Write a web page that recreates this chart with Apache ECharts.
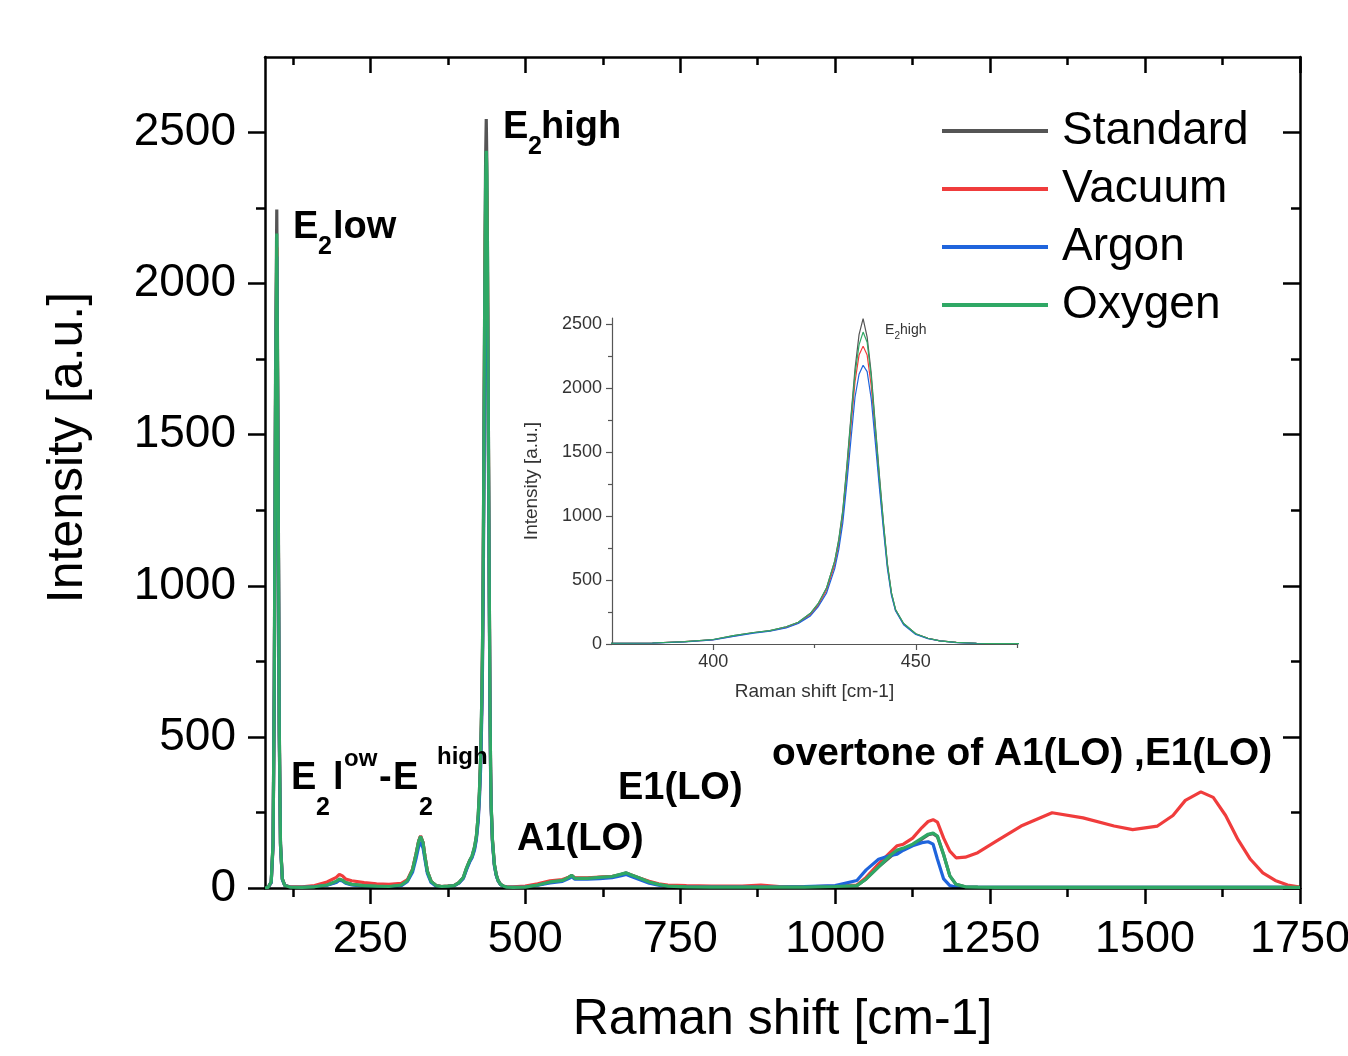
<!DOCTYPE html>
<html><head><meta charset="utf-8">
<script src="https://cdn.jsdelivr.net/npm/echarts@6/dist/echarts.min.js"></script>
<style>html,body{margin:0;padding:0;background:#fff;}#chart{width:1348px;height:1056px;}</style>
</head><body><div id="chart"></div>
<script>
// ---------------- data ----------------
const ramanShift = [80,85,90,93,95,97,99,101,103,105,108,112,120,140,160,180,195,200,205,210,220,240,260,280,300,310,318,324,328,331,333,335,338,342,348,356,365,375,385,393,400,405,410,414,418,421,424,426,428,430,431,432,433,434,435,436,437,438,439,440,441,442,443,444,445,447,450,453,456,460,465,470,480,500,520,540,560,570,575,580,600,620,640,655,663,670,685,700,715,730,760,800,850,880,910,950,1000,1035,1050,1070,1090,1100,1110,1125,1140,1150,1158,1165,1175,1185,1195,1210,1230,1260,1300,1350,1400,1450,1480,1520,1545,1565,1590,1610,1630,1650,1670,1690,1710,1730,1750];
const standard = [0,2,20,150,700,1700,2245,1500,550,150,30,8,3,2,4,10,20,28,25,18,12,8,6,5,10,25,60,115,155,172,170,150,105,55,22,8,5,6,8,18,35,65,90,105,135,170,240,320,440,650,820,1050,1400,1780,2150,2420,2545,2400,2120,1720,1330,960,630,400,270,160,80,45,25,12,6,3,2,3,10,20,25,35,42,32,32,35,38,45,50,44,32,20,12,6,4,3,3,3,3,3,5,8,30,70,105,122,128,142,162,176,180,170,110,40,12,4,3,2,2,2,2,2,2,2,2,2,2,2,2,2,2,2,2,2,2,2];
const vacuum = [0,2,18,140,650,1600,2120,1420,510,140,30,9,4,4,8,20,35,45,40,30,24,18,14,12,15,28,62,115,155,172,170,150,105,55,22,8,5,6,8,18,33,62,88,102,130,165,230,305,420,620,780,1000,1330,1700,2050,2260,2330,2260,2020,1650,1280,930,610,390,265,155,78,44,25,12,6,4,4,6,14,24,28,36,40,34,34,36,38,44,48,43,32,22,14,10,8,6,6,10,5,4,6,10,35,80,120,140,145,165,200,220,226,218,165,122,100,102,117,155,205,249,232,205,193,205,240,290,318,300,240,160,95,50,25,10,3];
const argon = [0,2,18,140,650,1580,2090,1400,500,140,28,8,3,2,4,9,18,26,23,16,10,6,5,4,8,22,52,100,138,152,150,132,95,48,18,6,4,5,7,16,32,60,85,100,125,160,220,295,400,590,740,950,1260,1600,1930,2110,2180,2130,1920,1580,1230,900,590,380,260,150,75,42,24,11,5,3,2,3,9,17,22,31,37,29,29,31,34,41,45,39,27,16,9,5,3,3,3,3,3,5,8,25,60,95,108,112,125,140,150,153,145,95,30,8,3,2,2,2,2,2,2,2,2,2,2,2,2,2,2,2,2,2,2,2];
const oxygen = [0,2,20,150,680,1650,2166,1450,530,145,30,8,3,2,4,10,22,30,26,18,12,8,6,5,10,25,60,115,155,170,168,150,105,55,22,8,5,6,8,18,35,65,90,105,135,170,240,320,440,650,810,1040,1380,1760,2110,2340,2440,2360,2090,1700,1310,950,620,400,270,160,80,45,25,12,6,3,2,3,10,20,25,35,42,32,32,35,38,46,50,44,32,20,12,6,4,3,3,3,3,3,5,8,30,70,110,126,132,145,165,178,182,172,110,40,12,4,3,2,2,2,2,2,2,2,2,2,2,2,2,2,2,2,2,2,2,2];

const seriesNames = ['Standard', 'Vacuum', 'Argon', 'Oxygen'];
const seriesValues = [standard, vacuum, argon, oxygen];
const seriesColors = ['#555555', '#f03c3c', '#1f64dc', '#2fa865'];

// tick values / labels
const mainXTicks = [250, 500, 750, 1000, 1250, 1500, 1750];
const mainXMinorTicks = [125, 375, 625, 875, 1125, 1375, 1625];
const mainYTicks = [0, 500, 1000, 1500, 2000, 2500];
const mainYMinorTicks = [250, 750, 1250, 1750, 2250];
const insetXTicks = [400, 450];
const insetXMinorTicks = [425, 475];
const insetYTicks = [0, 500, 1000, 1500, 2000, 2500];
const insetYMinorTicks = [250, 750, 1250, 1750, 2250];

// ---------------- chart ----------------
const FONT = '"Liberation Sans", Arial, Helvetica, sans-serif';
const chart = echarts.init(document.getElementById('chart'), null, {renderer: 'canvas'});

function pairs(ys) { return ramanShift.map((x, i) => [x, ys[i]]); }

function mkAxis(o) {
  const a = {
    type: 'value', gridIndex: o.grid, position: o.position, min: o.min, max: o.max,
    splitLine: {show: false}, minorTick: {show: false}, minorSplitLine: {show: false},
    axisLine: {show: !!o.line, onZero: false, lineStyle: {color: o.color, width: o.lineWidth}},
    axisTick: {show: true, inside: !!o.inside, length: o.tickLen, customValues: o.ticks,
               lineStyle: {color: o.color, width: o.lineWidth}},
    axisLabel: o.labels ? {show: true, customValues: o.ticks, fontSize: o.fontSize, color: o.labelColor,
               fontFamily: FONT, margin: o.margin, formatter: v => String(v)} : {show: false},
    z: 5
  };
  if (o.name) {
    a.name = o.name; a.nameLocation = 'middle'; a.nameGap = o.nameGap;
    a.nameTextStyle = {fontSize: o.nameSize, color: o.labelColor, fontFamily: FONT, padding: o.namePad || 0};
  }
  return a;
}

const mainX = {grid: 0, min: 80, max: 1750, color: '#000', lineWidth: 2.5};
const mainY = {grid: 0, min: 0, max: 2750, color: '#000', lineWidth: 2.5};
const insX = {grid: 1, min: 375, max: 475, color: '#555', lineWidth: 1.2};
const insY = {grid: 1, min: 0, max: 2550, color: '#555', lineWidth: 1.2};

const xAxes = [
  mkAxis(Object.assign({}, mainX, {position: 'bottom', line: true, ticks: mainXTicks, tickLen: 16, labels: true,
    fontSize: 45, labelColor: '#000', margin: 29, name: 'Raman shift [cm-1]', nameGap: 107, nameSize: 50})),
  mkAxis(Object.assign({}, mainX, {position: 'bottom', ticks: mainXMinorTicks, tickLen: 9})),
  mkAxis(Object.assign({}, mainX, {position: 'top', line: true, inside: true, ticks: mainXTicks, tickLen: 16})),
  mkAxis(Object.assign({}, mainX, {position: 'top', inside: true, ticks: mainXMinorTicks, tickLen: 8})),
  mkAxis(Object.assign({}, insX, {position: 'bottom', line: true, ticks: insetXTicks, tickLen: 6, labels: true,
    fontSize: 18, labelColor: '#333', margin: 9, name: 'Raman shift [cm-1]', nameGap: 38, nameSize: 19})),
  mkAxis(Object.assign({}, insX, {position: 'bottom', ticks: insetXMinorTicks, tickLen: 4}))
];
const yAxes = [
  mkAxis(Object.assign({}, mainY, {position: 'left', line: true, ticks: mainYTicks, tickLen: 17, labels: true,
    fontSize: 46, labelColor: '#000', margin: 29, name: 'Intensity [a.u.]', nameGap: 172, nameSize: 50,
    namePad: [0, 0, 0, 50]})),
  mkAxis(Object.assign({}, mainY, {position: 'left', ticks: mainYMinorTicks, tickLen: 9})),
  mkAxis(Object.assign({}, mainY, {position: 'right', line: true, inside: true, ticks: mainYTicks, tickLen: 17})),
  mkAxis(Object.assign({}, mainY, {position: 'right', inside: true, ticks: mainYMinorTicks, tickLen: 9})),
  mkAxis(Object.assign({}, insY, {position: 'left', line: true, ticks: insetYTicks, tickLen: 6, labels: true,
    fontSize: 18, labelColor: '#333', margin: 10, name: 'Intensity [a.u.]', nameGap: 71, nameSize: 19})),
  mkAxis(Object.assign({}, insY, {position: 'left', ticks: insetYMinorTicks, tickLen: 4}))
];

const series = [];
seriesNames.forEach((n, i) => {
  series.push({type: 'line', name: n, xAxisIndex: 0, yAxisIndex: 0, data: pairs(seriesValues[i]),
    showSymbol: false, symbol: 'none', smooth: false, clip: true, color: seriesColors[i],
    lineStyle: {color: seriesColors[i], width: 3.2}, z: 2 + i});
});
seriesNames.forEach((n, i) => {
  series.push({type: 'line', name: n, xAxisIndex: 4, yAxisIndex: 4, data: pairs(seriesValues[i]),
    showSymbol: false, symbol: 'none', smooth: false, clip: true, color: seriesColors[i],
    lineStyle: {color: seriesColors[i], width: 1.2}, z: 2 + i});
});

function txt(s, x, y, size, weight, color) {
  return {type: 'text', x: x, y: y, z: 50, silent: true,
    style: {text: s, fill: color || '#000', font: (weight || 'bold') + ' ' + size + 'px ' + FONT,
      textAlign: 'left', textVerticalAlign: 'middle', align: 'left', verticalAlign: 'middle'}};
}
const B = 38, S = 25, P = 24;
const annotations = [
  // E2low
  txt('E', 293, 228, B), txt('2', 318, 247, S), txt('low', 333, 228, B),
  // E2high
  txt('E', 503, 128, B), txt('2', 528, 147, S), txt('high', 541, 128, B),
  // E2low - E2high
  txt('E', 291, 779, B), txt('2', 316, 808, S), txt('l', 333, 779, B), txt('ow', 344, 759, P),
  txt('-', 379, 779, B), txt('E', 393, 779, B), txt('2', 419, 808, S), txt('high', 437, 757, P),
  // A1(LO), E1(LO), overtone
  txt('A1(LO)', 517, 840, B),
  txt('E1(LO)', 618, 789, B),
  txt('overtone of A1(LO) ,E1(LO)', 772, 754, 38.8),
  // inset label
  txt('E', 885, 330, 14, 'normal', '#333'), txt('2', 894.5, 336, 10, 'normal', '#333'),
  txt('high', 900, 330, 14, 'normal', '#333')
];

chart.setOption({
  animation: false,
  backgroundColor: '#ffffff',
  grid: [
    {left: 265, top: 57, width: 1035, height: 831, containLabel: false, outerBoundsMode: 'none', show: false},
    {left: 612, top: 318, width: 405, height: 326, containLabel: false, outerBoundsMode: 'none', show: false}
  ],
  legend: {
    show: true, orient: 'vertical', left: 942, top: 106, padding: 0, selectedMode: false,
    itemWidth: 106, itemHeight: 4, itemGap: 8, icon: 'rect',
    data: seriesNames,
    textStyle: {fontSize: 46, color: '#000', fontFamily: FONT, lineHeight: 50, padding: [0, 0, 0, 9]}
  },
  xAxis: xAxes,
  yAxis: yAxes,
  series: series,
  graphic: annotations
});
</script>
</body></html>
